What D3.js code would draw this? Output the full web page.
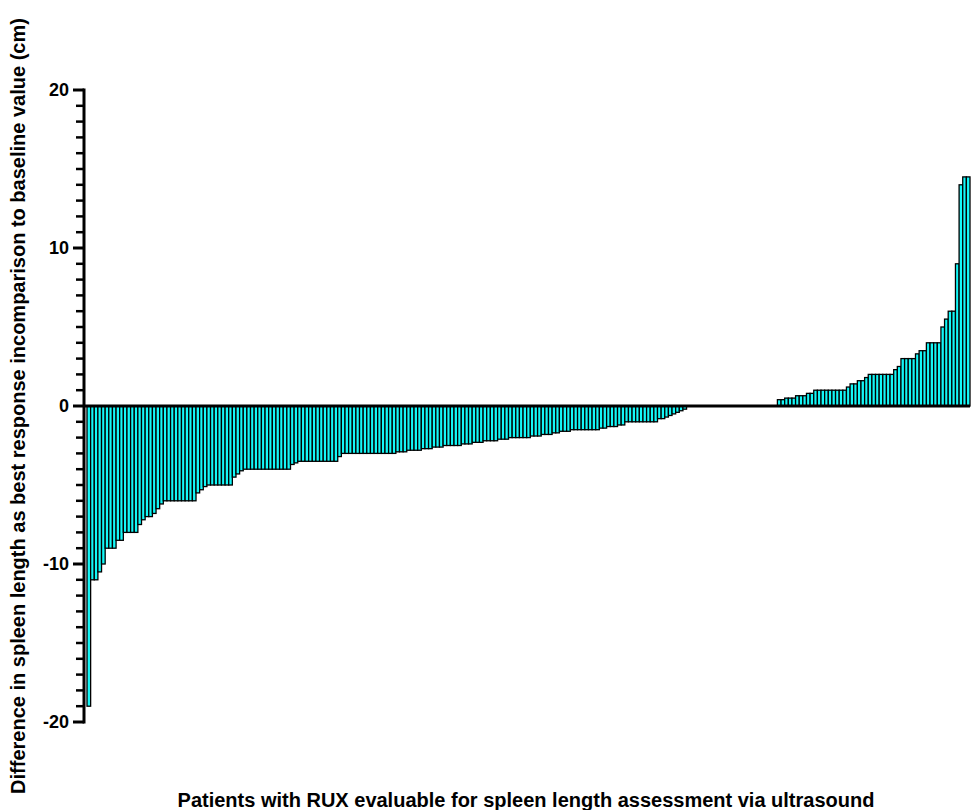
<!DOCTYPE html>
<html>
<head>
<meta charset="utf-8">
<script src="https://cdn.jsdelivr.net/npm/d3@7"></script>
<style>
  html, body { margin: 0; padding: 0; background: #fff; }
  svg { display: block; }
  text { font-family: "Liberation Sans", Arial, sans-serif; font-weight: bold; fill: #000; }
</style>
</head>
<body>
<svg id="chart" width="973" height="810"></svg>
<script>
// Change in spleen length (cm), best response vs baseline, sorted per patient
const negativeValues = [
  -19,
  -11, -11, -10.5, -10,
  -9, -9, -9, -8.5, -8.5,
  -8, -8, -8, -8, -7.5, -7.2, -7, -7,
  -6.8, -6.5, -6.2,
  -6, -6, -6, -6, -6, -6, -6, -6, -6,
  -5.5, -5.3, -5.1,
  -5, -5, -5, -5, -5, -5, -5,
  -4.5, -4.3, -4.1,
  -4, -4, -4, -4, -4, -4, -4, -4, -4, -4, -4, -4, -4,
  -3.7, -3.6,
  -3.5, -3.5, -3.5, -3.5, -3.5, -3.5, -3.5, -3.5, -3.5, -3.5, -3.5,
  -3.2,
  -3, -3, -3, -3, -3, -3, -3, -3, -3, -3, -3, -3, -3, -3, -3,
  -2.9, -2.9, -2.9,
  -2.8, -2.8, -2.8, -2.8,
  -2.7, -2.7, -2.7,
  -2.6, -2.6, -2.6,
  -2.5, -2.5, -2.5, -2.5, -2.5,
  -2.4, -2.4, -2.4,
  -2.3, -2.3, -2.3,
  -2.2, -2.2, -2.2, -2.2,
  -2.1, -2.1, -2.1,
  -2, -2, -2, -2, -2, -2,
  -1.9, -1.9, -1.9,
  -1.8, -1.8, -1.8,
  -1.7, -1.7,
  -1.6, -1.6, -1.6,
  -1.5, -1.5, -1.5, -1.5, -1.5, -1.5, -1.5, -1.5,
  -1.4, -1.4,
  -1.3, -1.3, -1.3,
  -1.2, -1.2,
  -1, -1, -1, -1, -1, -1, -1, -1, -1,
  -0.8, -0.8,
  -0.7, -0.6, -0.5, -0.4, -0.3, -0.2
];
const zeroValues = [
  0, 0, 0, 0, 0, 0, 0, 0, 0, 0, 0, 0, 0,
  0, 0, 0, 0, 0, 0, 0, 0, 0, 0, 0, 0
];
const positiveValues = [
  0.4, 0.4,
  0.5, 0.5, 0.5,
  0.65, 0.65, 0.65,
  0.8, 0.8,
  1, 1, 1, 1, 1, 1, 1, 1, 1,
  1.2, 1.4, 1.4, 1.6, 1.6, 1.8,
  2, 2, 2, 2, 2, 2, 2,
  2.3, 2.5,
  3, 3, 3, 3,
  3.3, 3.5, 3.5,
  4, 4, 4, 4,
  5, 5.5, 6, 6,
  9, 14, 14.5, 14.5
];
const yMajorTicks = [-20, -10, 0, 10, 20];
const yMinorTicks = [-19, -18, -17, -16, -15, -14, -13, -12, -11,
  -9, -8, -7, -6, -5, -4, -3, -2, -1,
  1, 2, 3, 4, 5, 6, 7, 8, 9,
  11, 12, 13, 14, 15, 16, 17, 18, 19];
const yTitle = "Difference in spleen length as best response incomparison to baseline value (cm)";
const xTitle = "Patients with RUX evaluable for spleen length assessment via ultrasound";

const values = negativeValues.concat(zeroValues, positiveValues);

const svg = d3.select("#chart");
const axisX = 84;

const x = d3.scaleBand()
  .domain(d3.range(values.length))
  .range([87, 970])
  .padding(0);

const y = d3.scaleLinear()
  .domain([-20, 20])
  .range([722, 90]);

// bars
svg.append("g")
  .selectAll("rect")
  .data(values)
  .join("rect")
  .attr("x", (d, i) => x(i))
  .attr("width", x.bandwidth())
  .attr("y", d => y(Math.max(0, d)))
  .attr("height", d => Math.abs(y(d) - y(0)))
  .attr("fill", "#14f7f7")
  .attr("stroke", "#000")
  .attr("stroke-width", 1.3);

// zero line across the bars
svg.append("line")
  .attr("x1", axisX)
  .attr("x2", 970)
  .attr("y1", y(0))
  .attr("y2", y(0))
  .attr("stroke", "#000")
  .attr("stroke-width", 3);

// y axis with major and minor ticks
const yAxis = svg.append("g").attr("transform", `translate(${axisX},0)`);
yAxis.append("line")
  .attr("x1", 0).attr("x2", 0)
  .attr("y1", y(20) - 1.5).attr("y2", y(-20) + 1.5)
  .attr("stroke", "#000").attr("stroke-width", 3);

yAxis.selectAll("line.minor")
  .data(yMinorTicks)
  .join("line")
  .attr("class", "minor")
  .attr("x1", -8).attr("x2", 0)
  .attr("y1", d => y(d)).attr("y2", d => y(d))
  .attr("stroke", "#000").attr("stroke-width", 2.5);

yAxis.selectAll("line.major")
  .data(yMajorTicks)
  .join("line")
  .attr("class", "major")
  .attr("x1", -11).attr("x2", 0)
  .attr("y1", d => y(d)).attr("y2", d => y(d))
  .attr("stroke", "#000").attr("stroke-width", 3);

yAxis.selectAll("text")
  .data(yMajorTicks)
  .join("text")
  .attr("x", -15)
  .attr("y", d => y(d))
  .attr("dy", "0.36em")
  .attr("text-anchor", "end")
  .attr("font-size", 18)
  .text(d => d);

// axis titles
svg.append("text")
  .attr("transform", "translate(25,406) rotate(-90)")
  .attr("text-anchor", "middle")
  .attr("font-size", 20)
  .text(yTitle);

svg.append("text")
  .attr("x", 526)
  .attr("y", 807)
  .attr("text-anchor", "middle")
  .attr("font-size", 20)
  .text(xTitle);
</script>
</body>
</html>
